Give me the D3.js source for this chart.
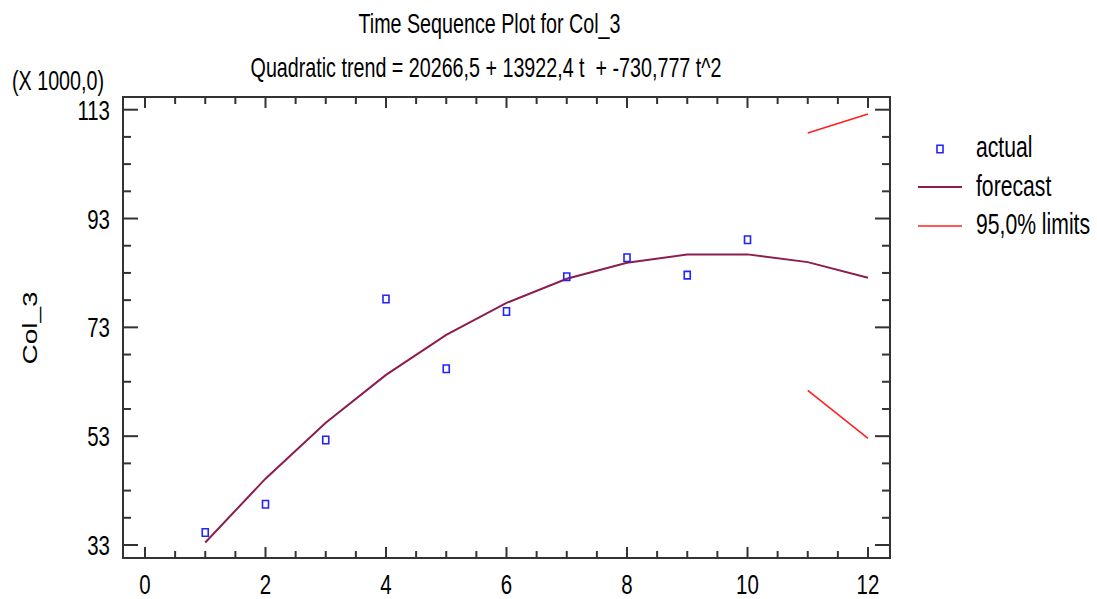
<!DOCTYPE html>
<html>
<head>
<meta charset="utf-8">
<script src="https://cdn.jsdelivr.net/npm/d3@7"></script>
<style>
	body { margin: 0; background: #fff; }
	text { font-family: "Liberation Sans", Arial, sans-serif; fill: #000; }
</style>
</head>
<body>
<div id="chart"></div>
<script>

// data (values in thousands)
const actualT = [1, 2, 3, 4, 5, 6, 7, 8, 9, 10];
const actualV = [35.3, 40.5, 52.3, 78.2, 65.4, 75.9, 82.3, 85.8, 82.6, 89.1];

const forecastT = [1, 2, 3, 4, 5, 6, 7, 8, 9, 10, 11, 12];
const forecastV = [33.46, 45.19, 55.46, 64.26, 71.61, 77.49, 81.92, 84.88, 86.38, 86.41, 84.99, 82.10];

const limitT = [11, 12];
const upperV = [108.7, 112.2];
const lowerV = [61.4, 52.6];

const xTicks = [0, 2, 4, 6, 8, 10, 12];
const yTicks = [33, 53, 73, 93, 113];

const legendItems = ["actual", "forecast", "95,0% limits"];


function graph(){

	// the reference picture is squeezed horizontally, so everything is drawn
	// wider and the viewBox squeezes it back
	const k = 0.73;
	const width = 1097, height = 599;
	const sx = (px) => px / k;

	let svg = d3.select("#chart")
		.append("svg")
		.attr("width", width)
		.attr("height", height)
		.attr("viewBox", "0 0 " + sx(width) + " " + height)
		.attr("preserveAspectRatio", "none");

	//frame
	let frame = {left: sx(123), right: sx(890), top: 97, bottom: 558};

	let x = d3.scaleLinear().domain([0, 12]).range([sx(145), sx(868)]);
	let y = d3.scaleLinear().domain([33, 113]).range([545, 109.7]);

	const axisColor = "#333";

	function line(x1, y1, x2, y2, color, w){
		return svg.append("line")
			.attr("x1", x1).attr("y1", y1)
			.attr("x2", x2).attr("y2", y2)
			.attr("stroke", color)
			.attr("stroke-width", w)
			.attr("vector-effect", "non-scaling-stroke");
	}

	//x ticks, every 0.5, bottom and top, pointing inward
	d3.range(0, 12.01, 0.5).forEach((t) => {
		let major = xTicks.indexOf(t) >= 0;
		let len = major ? 11 : 7;
		line(x(t), frame.bottom, x(t), frame.bottom - len, axisColor, 2);
		line(x(t), frame.top, x(t), frame.top + len, axisColor, 2);
	});

	//y ticks, every 5, left and right
	d3.range(33, 113.01, 5).forEach((v) => {
		let major = yTicks.indexOf(v) >= 0;
		let len = major ? sx(15) : sx(8);
		line(frame.left, y(v), frame.left + len, y(v), axisColor, 2);
		line(frame.right, y(v), frame.right - len, y(v), axisColor, 2);
	});

	//frame box
	svg.append("rect")
		.attr("x", frame.left)
		.attr("y", frame.top)
		.attr("width", frame.right - frame.left)
		.attr("height", frame.bottom - frame.top)
		.attr("fill", "none")
		.attr("stroke", axisColor)
		.attr("stroke-width", 2)
		.attr("vector-effect", "non-scaling-stroke");

	//tick labels
	svg.selectAll(".xlab")
		.data(xTicks)
		.enter().append("text")
		.attr("class", "xlab")
		.attr("x", (d) => x(d))
		.attr("y", 594)
		.attr("text-anchor", "middle")
		.attr("font-size", 28)
		.text((d) => d);

	svg.selectAll(".ylab")
		.data(yTicks)
		.enter().append("text")
		.attr("class", "ylab")
		.attr("x", sx(110))
		.attr("y", (d) => y(d) + 10)
		.attr("text-anchor", "end")
		.attr("font-size", 28)
		.text((d) => d);

	//forecast curve
	let lineGen = d3.line()
		.x((d) => x(d[0]))
		.y((d) => y(d[1]));

	svg.append("path")
		.datum(d3.zip(forecastT, forecastV))
		.attr("d", lineGen)
		.attr("fill", "none")
		.attr("stroke", "#8c1d4f")
		.attr("stroke-width", 2)
		.attr("vector-effect", "non-scaling-stroke");

	//95% limits
	[upperV, lowerV].forEach((vals) => {
		svg.append("path")
			.datum(d3.zip(limitT, vals))
			.attr("d", lineGen)
			.attr("fill", "none")
			.attr("stroke", "#ff2020")
			.attr("stroke-width", 1.6)
			.attr("vector-effect", "non-scaling-stroke");
	});

	//actual points
	const mw = sx(6), mh = 7.5;
	svg.selectAll(".pt")
		.data(d3.zip(actualT, actualV))
		.enter().append("rect")
		.attr("class", "pt")
		.attr("x", (d) => x(d[0]) - mw / 2)
		.attr("y", (d) => y(d[1]) - mh / 2)
		.attr("width", mw)
		.attr("height", mh)
		.attr("fill", "none")
		.attr("stroke", "#2222ff")
		.attr("stroke-width", 1.6)
		.attr("vector-effect", "non-scaling-stroke");

	//titles
	svg.append("text")
		.attr("x", sx(489.5))
		.attr("y", 33)
		.attr("text-anchor", "middle")
		.attr("font-size", 27)
		.text("Time Sequence Plot for Col_3");

	svg.append("text")
		.attr("x", sx(486))
		.attr("y", 77)
		.attr("text-anchor", "middle")
		.attr("font-size", 27)
		.style("white-space", "pre")
		.text("Quadratic trend = 20266,5 + 13922,4 t  + -730,777 t^2");

	svg.append("text")
		.attr("x", sx(12))
		.attr("y", 90)
		.attr("font-size", 27)
		.text("(X 1000,0)");

	svg.append("text")
		.attr("transform", "translate(" + sx(37) + ",328) rotate(-90)")
		.attr("text-anchor", "middle")
		.attr("font-size", 28)
		.text("Col_3");

	//legend
	svg.append("rect")
		.attr("x", sx(940) - mw / 2)
		.attr("y", 149 - mh / 2)
		.attr("width", mw)
		.attr("height", mh)
		.attr("fill", "none")
		.attr("stroke", "#2222ff")
		.attr("stroke-width", 1.6)
		.attr("vector-effect", "non-scaling-stroke");

	line(sx(918), 187, sx(962), 187, "#8c1d4f", 2);
	line(sx(918), 226, sx(962), 226, "#ff2020", 1.6);

	svg.selectAll(".leg")
		.data(legendItems)
		.enter().append("text")
		.attr("class", "leg")
		.attr("x", sx(976))
		.attr("y", (d, i) => [157, 196, 234][i])
		.attr("font-size", 29)
		.text((d) => d);

} //function graph


window.addEventListener("load", function(){
	graph();
});
</script>
</body>
</html>
